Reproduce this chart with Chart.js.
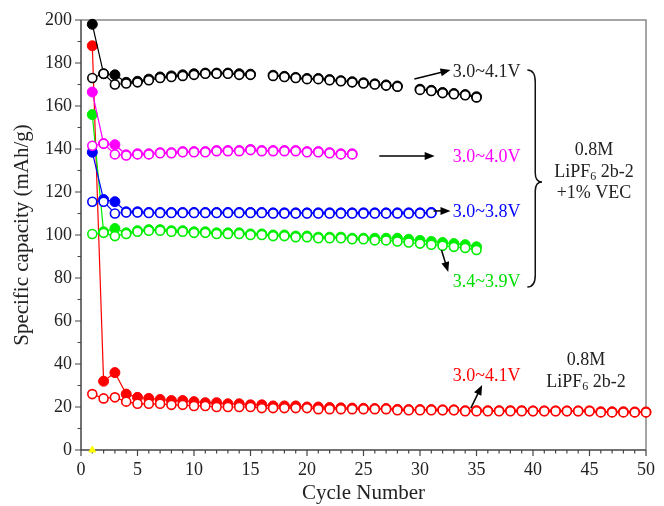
<!DOCTYPE html>
<html lang="en">
<head>
<meta charset="UTF-8" />
<title>Specific capacity vs cycle number</title>
<script src="https://cdn.jsdelivr.net/npm/chart.js"></script>
<style>
  html, body { margin: 0; padding: 0; background: #fff; }
  #wrap { width: 664px; height: 506px; }
</style>
</head>
<body>
<div id="wrap"><canvas id="capChart"></canvas></div>
<script>
// cycle numbers (51 only carries the red line past the frame)
const cycles = [1, 2, 3, 4, 5, 6, 7, 8, 9, 10, 11, 12, 13, 14, 15, 16, 17, 18, 19, 20,
  21, 22, 23, 24, 25, 26, 27, 28, 29, 30, 31, 32, 33, 34, 35, 36, 37, 38, 39, 40,
  41, 42, 43, 44, 45, 46, 47, 48, 49, 50, 51];

// 0.8M LiPF6 2b-2 +1% VEC, 3.0~4.1V
const blackCharge = [198, 175, 174.5, 171, 171.5, 172.5, 173.5, 174, 174.5, 175, 175.3, 175.3, 175.3, 175, 174.8, null,
  174.3, 173.8, 173.3, 172.8, 172.8, 172.3, 171.8, 171.3, 170.8, 170.3, 169.8, 169.3, null,
  167.8, 167.3, 166.3, 165.8, 165.3, 164.3];
const blackDischarge = [173, 175, 170, 170.5, 171, 172, 173, 173.5, 174, 174.5, 175, 175, 175, 174.5, 174.5, null,
  174, 173.5, 173, 172.5, 172.5, 172, 171.5, 171, 170.5, 170, 169.5, 169, null,
  167.5, 167, 166, 165.5, 165, 164];

// 3.0~4.0V
const magentaCharge = [166.5, 142.5, 142, 137.3, 137.8, 137.8, 138.3, 138.3, 138.8, 138.8, 138.8, 139.3,
  139.3, 139.3, 139.8, 139.3, 139.3, 139.3, 139.3, 138.8, 138.8, 138.3, 137.8, 137.8];
const magentaDischarge = [141.5, 142.5, 137.5, 137, 137.5, 137.5, 138, 138, 138.5, 138.5, 138.5, 139,
  139, 139, 139.5, 139, 139, 139, 139, 138.5, 138.5, 138, 137.5, 137.5];

// 3.0~3.8V
const blueCharge = [138.5, 116.5, 115.5, 110.8, 110.8, 110.5, 110.5, 110.5, 110.5, 110.5, 110.5, 110.5,
  110.5, 110.5, 110.5, 110.5, 110.3, 110.3, 110.3, 110.3, 110.3, 110.3, 110.3, 110.3, 110.3, 110.3,
  110.3, 110.3, 110.3, 110.3, 110.5];
const blueDischarge = [115.5, 115.5, 110, 110.5, 110.5, 110.2, 110.2, 110.2, 110.2, 110.2, 110.2, 110.2,
  110.2, 110.2, 110.2, 110.2, 110, 110, 110, 110, 110, 110, 110, 110, 110, 110,
  110, 110, 110, 110, 110.2];

// 3.4~3.9V
const greenCharge = [156, 101.5, 103, 101, 102, 102.5, 102.5, 102, 102, 101.5, 101.5, 101, 101, 101, 100.5,
  100.5, 100, 100, 99.5, 99.5, 99, 99, 99, 98.5, 98.5, 98.5, 98.5, 98.5, 98, 97.5, 97, 96.5, 96, 95.5, 94.5];
const greenDischarge = [100.5, 101, 99.5, 100.5, 101.5, 102, 102, 101.5, 101.5, 101, 101, 100.5, 100.5, 100.5, 100,
  100, 99.5, 99.5, 99, 99, 98.5, 98.5, 98.5, 98, 98, 97.5, 97.5, 97, 96.5, 96, 95.5, 95, 94.5, 94, 93];

// 0.8M LiPF6 2b-2, 3.0~4.1V
const redCharge = [188, 32, 36, 26, 24.5, 24, 23.5, 23, 23, 22.5, 22, 22, 21.5, 21.5, 21, 21, 20.5, 20.5, 20.5, 20,
  20, 19.8, 19.6, 19.5, 19.4, 19.3, 19.3, 18.9, 18.8, 18.8, 18.8, 18.7, 18.7, 18.3, 18.3, 18.3, 18.3, 18.3,
  18.3, 18.2, 18.2, 18.2, 18.2, 18.2, 18.2, 17.8, 17.8, 17.8, 17.7, 17.7];
const redDischarge = [26, 24, 24.5, 22.5, 21.5, 21.5, 21.5, 21, 21, 20.5, 20.5, 20, 20, 20, 20, 19.5, 19.5, 19.5,
  19.5, 19.5, 19, 19, 19, 19, 19, 19, 19, 18.5, 18.5, 18.5, 18.5, 18.5, 18.5, 18, 18, 18, 18, 18, 18, 18,
  18, 18, 18, 18, 18, 17.5, 17.5, 17.5, 17.5, 17.5, 17.5];

const markerCycle = [1];
const markerValue = [0];

const serif = "'Liberation Serif', 'DejaVu Serif', serif";

function toPoints(values) {
  return values.map((v, i) => ({ x: cycles[i], y: v }));
}

function openSeries(values, color) {
  return {
    type: 'line',
    data: toPoints(values),
    borderColor: color,
    backgroundColor: '#ffffff',
    pointBackgroundColor: '#ffffff',
    pointBorderColor: color,
    pointBorderWidth: 1.6,
    pointRadius: ctx => (ctx.raw && ctx.raw.x > 50 ? 0 : 4.5),
    borderWidth: 1.2,
    spanGaps: false,
    clip: false,
    order: 0
  };
}

function filledSeries(values, color) {
  return {
    type: 'line',
    data: toPoints(values),
    borderColor: color,
    backgroundColor: color,
    pointBackgroundColor: color,
    pointBorderColor: color,
    pointBorderWidth: 1,
    pointRadius: 5,
    borderWidth: 1.2,
    spanGaps: false,
    clip: false,
    order: 1
  };
}

// arrow between two points given in data units
function arrow(ctx, xs, ys, x1, y1, x2, y2) {
  const ax = xs.getPixelForValue(x1), ay = ys.getPixelForValue(y1);
  const bx = xs.getPixelForValue(x2), by = ys.getPixelForValue(y2);
  const ang = Math.atan2(by - ay, bx - ax);
  ctx.save();
  ctx.strokeStyle = '#000';
  ctx.fillStyle = '#000';
  ctx.lineWidth = 1.5;
  ctx.beginPath();
  ctx.moveTo(ax, ay);
  ctx.lineTo(bx - 6 * Math.cos(ang), by - 6 * Math.sin(ang));
  ctx.stroke();
  ctx.beginPath();
  ctx.moveTo(bx, by);
  ctx.lineTo(bx - 10 * Math.cos(ang) + 4 * Math.sin(ang), by - 10 * Math.sin(ang) - 4 * Math.cos(ang));
  ctx.lineTo(bx - 10 * Math.cos(ang) - 4 * Math.sin(ang), by - 10 * Math.sin(ang) + 4 * Math.cos(ang));
  ctx.closePath();
  ctx.fill();
  ctx.restore();
}

function label(ctx, xs, ys, text, x, y, color, align) {
  ctx.save();
  ctx.font = '18px ' + serif;
  ctx.fillStyle = color;
  ctx.textAlign = align || 'left';
  ctx.textBaseline = 'middle';
  ctx.fillText(text, xs.getPixelForValue(x), ys.getPixelForValue(y));
  ctx.restore();
}

// "LiPF6 2b-2" with a subscript 6, centred
function lipf(ctx, xs, ys, x, y) {
  ctx.save();
  ctx.fillStyle = '#222';
  ctx.textBaseline = 'middle';
  ctx.textAlign = 'left';
  ctx.font = '18px ' + serif;
  const w1 = ctx.measureText('LiPF').width;
  const w3 = ctx.measureText(' 2b-2').width;
  ctx.font = '12px ' + serif;
  const w2 = ctx.measureText('6').width;
  const cx = xs.getPixelForValue(x), cy = ys.getPixelForValue(y);
  let left = cx - (w1 + w2 + w3) / 2;
  ctx.font = '18px ' + serif;
  ctx.fillText('LiPF', left, cy);
  ctx.font = '12px ' + serif;
  ctx.fillText('6', left + w1, cy + 5);
  ctx.font = '18px ' + serif;
  ctx.fillText(' 2b-2', left + w1 + w2, cy);
  ctx.restore();
}

const frameTicks = {
  id: 'frameTicks',
  beforeDatasetsDraw(chart) {
    const { ctx, chartArea: a } = chart;
    const xs = chart.scales.x, ys = chart.scales.y;
    ctx.save();
    ctx.strokeStyle = '#888';
    ctx.lineWidth = 1.5;
    ctx.beginPath();
    ctx.moveTo(a.left, a.top);
    ctx.lineTo(a.right, a.top);
    ctx.lineTo(a.right, a.bottom);
    ctx.stroke();
    ctx.strokeStyle = '#444';
    ctx.beginPath();
    ctx.moveTo(a.left, a.top);
    ctx.lineTo(a.left, a.bottom);
    ctx.lineTo(a.right, a.bottom);
    ctx.stroke();
    ctx.lineWidth = 1.2;
    ctx.beginPath();
    for (let v = 0; v <= 200; v += 10) {
      const py = ys.getPixelForValue(v);
      const len = v % 20 === 0 ? 6 : 3.5;
      ctx.moveTo(a.left - len, py);
      ctx.lineTo(a.left, py);
    }
    for (let c = 0; c <= 50; c += 1) {
      const px = xs.getPixelForValue(c);
      const len = c % 5 === 0 ? 6 : 3.5;
      ctx.moveTo(px, a.bottom);
      ctx.lineTo(px, a.bottom + len);
    }
    ctx.stroke();
    ctx.restore();
  },
  afterDraw(chart) {
    const ctx = chart.ctx;
    const xs = chart.scales.x, ys = chart.scales.y;

    label(ctx, xs, ys, '3.0~4.1V', 32.9, 175.8, '#222');
    arrow(ctx, xs, ys, 29.5, 172.6, 32.7, 176.7);
    label(ctx, xs, ys, '3.0~4.0V', 32.9, 136.3, '#ff00ff');
    arrow(ctx, xs, ys, 26.4, 136.7, 31.3, 136.7);
    label(ctx, xs, ys, '3.0~3.8V', 32.9, 110.7, '#0000ff');
    arrow(ctx, xs, ys, 31.2, 111.2, 32.7, 111.2);
    label(ctx, xs, ys, '3.4~3.9V', 32.9, 78.1, '#00dd00');
    arrow(ctx, xs, ys, 31.9, 93, 32.5, 82.8);

    // curly brace grouping the VEC curves
    const x0 = xs.getPixelForValue(39.5), xv = xs.getPixelForValue(40.2), xt = xs.getPixelForValue(40.8);
    const yT = ys.getPixelForValue(176.7), yM = ys.getPixelForValue(124.7), yB = ys.getPixelForValue(75.8);
    ctx.save();
    ctx.strokeStyle = '#111';
    ctx.lineWidth = 1.5;
    ctx.beginPath();
    ctx.moveTo(x0, yT);
    ctx.quadraticCurveTo(xv, yT, xv, yT + 12);
    ctx.lineTo(xv, yM - 9);
    ctx.quadraticCurveTo(xv, yM, xt, yM);
    ctx.quadraticCurveTo(xv, yM, xv, yM + 9);
    ctx.lineTo(xv, yB - 12);
    ctx.quadraticCurveTo(xv, yB, x0, yB);
    ctx.stroke();
    ctx.restore();

    label(ctx, xs, ys, '0.8M', 45.4, 139.5, '#222', 'center');
    lipf(ctx, xs, ys, 45.4, 129.3);
    label(ctx, xs, ys, '+1% VEC', 45.4, 119.5, '#222', 'center');

    label(ctx, xs, ys, '3.0~4.1V', 32.9, 34.4, '#ff0000');
    arrow(ctx, xs, ys, 34.5, 19.5, 35.5, 30.2);
    label(ctx, xs, ys, '0.8M', 44.7, 41.9, '#222', 'center');
    lipf(ctx, xs, ys, 44.7, 31.6);
  }
};

const chart = new Chart(document.getElementById('capChart'), {
  type: 'line',
  data: {
    datasets: [
      {
        type: 'scatter',
        data: markerCycle.map((c, i) => ({ x: c, y: markerValue[i] })),
        pointStyle: 'triangle',
        pointRadius: 4,
        backgroundColor: '#ffff00',
        borderColor: '#ffff00',
        clip: false,
        order: -1
      },
      openSeries(blackDischarge, '#000000'),
      openSeries(magentaDischarge, '#ff00ff'),
      openSeries(blueDischarge, '#0000ff'),
      openSeries(greenDischarge, '#00ee00'),
      openSeries(redDischarge, '#ff0000'),
      filledSeries(blackCharge, '#000000'),
      filledSeries(magentaCharge, '#ff00ff'),
      filledSeries(blueCharge, '#0000ff'),
      filledSeries(greenCharge, '#00ee00'),
      filledSeries(redCharge, '#ff0000')
    ]
  },
  options: {
    responsive: true,
    maintainAspectRatio: false,
    animation: false,
    layout: { padding: { top: 20, right: 12, left: 0, bottom: 0 } },
    plugins: {
      legend: { display: false },
      tooltip: { enabled: false }
    },
    scales: {
      x: {
        type: 'linear',
        min: 0,
        max: 50,
        grid: { display: false, drawTicks: false },
        border: { display: false },
        ticks: { stepSize: 5, padding: 9, color: '#222', font: { family: serif, size: 18 } },
        title: { display: true, text: 'Cycle Number', color: '#222', padding: 0, font: { family: serif, size: 21 } },
        afterFit: s => { s.height = 56; }
      },
      y: {
        type: 'linear',
        min: 0,
        max: 200,
        grid: { display: false, drawTicks: false },
        border: { display: false },
        ticks: { stepSize: 20, padding: 9, color: '#222', font: { family: serif, size: 18 } },
        title: { display: true, text: 'Specific capacity (mAh/g)', color: '#222', padding: { top: 10, bottom: 0 }, font: { family: serif, size: 21 } },
        afterFit: s => { s.width = 81; }
      }
    }
  },
  plugins: [frameTicks]
});
</script>
</body>
</html>
